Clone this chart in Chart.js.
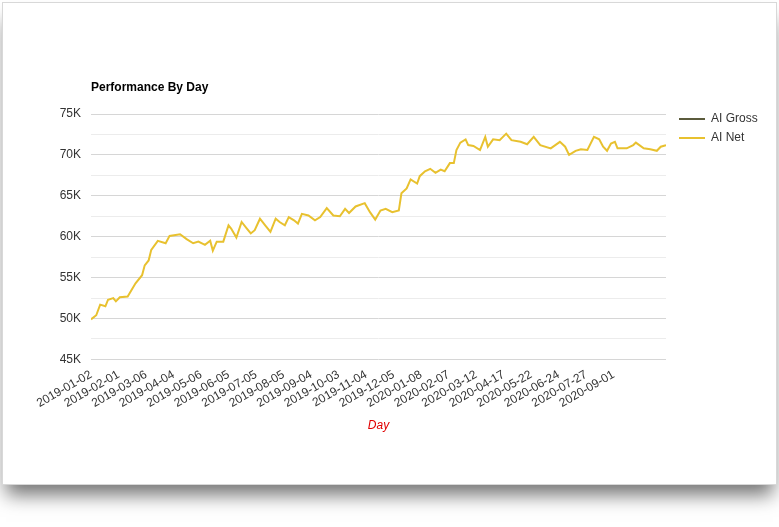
<!DOCTYPE html>
<html><head><meta charset="utf-8">
<script src="https://cdn.jsdelivr.net/npm/chart.js@4"></script>
<style>
html,body{margin:0;padding:0;background:#fff;width:779px;height:527px;overflow:hidden}
#card{position:absolute;left:2px;top:2px;width:773px;height:481px;background:#fff;border:1px solid #d8d8d8;box-shadow:0 14px 18px -4px rgba(0,0,0,0.55)}
canvas{display:block}
</style></head><body>
<div id="card"><canvas id="c" width="773" height="481"></canvas></div>
<script>
const chartTitle = "Performance By Day";
const tickLabels = ["2019-01-02","2019-02-01","2019-03-06","2019-04-04","2019-05-06","2019-06-05","2019-07-05","2019-08-05","2019-09-04","2019-10-03","2019-11-04","2019-12-05","2020-01-08","2020-02-07","2020-03-12","2020-04-17","2020-05-22","2020-06-24","2020-07-27","2020-09-01"];
const tickSpacingDays = 21;
const dayIndex = [0,4,7,11,13,17,19,22,28,34,39,41,44,46,51,57,60,68,73,78,82,87,91,93,96,101,105,107,111,115,119,122,125,129,133,137,141,144,148,151,155,158,161,166,171,175,180,185,190,194,197,202,209,213,217,221,225,230,235,237,241,244,249,251,255,259,263,267,270,274,277,279,282,286,288,292,297,301,303,307,312,317,321,328,333,338,343,351,358,362,365,370,374,379,384,388,391,394,397,400,402,409,414,416,422,427,432,435,439];
const netValues = [49.9,50.4,51.7,51.5,52.3,52.5,52.1,52.6,52.7,54.3,55.3,56.5,57.1,58.4,59.5,59.2,60.1,60.3,59.7,59.2,59.4,59.0,59.5,58.3,59.4,59.4,61.4,61.0,59.9,61.8,61.0,60.4,60.8,62.2,61.4,60.6,62.2,61.8,61.4,62.4,62.0,61.6,62.8,62.6,62.0,62.4,63.5,62.6,62.5,63.4,62.9,63.7,64.1,63.0,62.1,63.2,63.4,63.0,63.2,65.3,65.9,67.0,66.5,67.4,68.0,68.3,67.8,68.2,68.0,69.0,69.0,70.6,71.5,71.9,71.2,71.1,70.6,72.2,71.0,71.9,71.8,72.6,71.8,71.6,71.3,72.2,71.2,70.8,71.6,71.0,70.0,70.5,70.7,70.6,72.2,71.9,71.0,70.5,71.4,71.6,70.8,70.8,71.2,71.5,70.8,70.7,70.5,71.0,71.2].map(v=>v*1000);
const grossValues = [];
const seriesNames = ["AI Gross","AI Net"];

const FAM = "Arial, 'Liberation Sans', sans-serif";
const font = {family:FAM, size:12};
const decor = {
  id:'decor',
  afterDraw(chart){
    const ctx = chart.ctx, a = chart.chartArea;
    ctx.save();
    ctx.fillStyle = '#000'; ctx.font = 'bold 12px ' + FAM; ctx.textBaseline = 'middle'; ctx.textAlign = 'left';
    ctx.fillText(chartTitle, a.left, a.top - 26);
    ctx.font = '12px ' + FAM;
    chart.data.datasets.forEach((ds,i)=>{
      const y = a.top + 5 + i*19, x = a.right + 13;
      ctx.strokeStyle = ds.borderColor; ctx.lineWidth = 2;
      ctx.beginPath(); ctx.moveTo(x, y); ctx.lineTo(x+26, y); ctx.stroke();
      ctx.fillStyle = '#333'; ctx.fillText(ds.label, x+32, y);
    });
    ctx.restore();
  }
};
new Chart(document.getElementById('c'), {
  type:'line',
  data:{datasets:[
    {label:seriesNames[0], data:grossValues, borderColor:'#5b5b3c', backgroundColor:'#5b5b3c', borderWidth:2, pointRadius:0},
    {label:seriesNames[1], data:dayIndex.map((d,i)=>({x:d,y:netValues[i]})), borderColor:'#e8c12f', backgroundColor:'#e8c12f', borderWidth:2, pointRadius:0, tension:0}
  ]},
  plugins:[decor],
  options:{
    responsive:false, animation:false,
    layout:{padding:{top:111,left:9,right:110,bottom:47}},
    plugins:{ title:{display:false}, legend:{display:false}, tooltip:{enabled:false} },
    scales:{
      x:{type:'linear', min:0, max:439,
        afterBuildTicks(ax){ ax.ticks = tickLabels.map((t,i)=>({value:i*tickSpacingDays})); },
        ticks:{color:'#333', font, minRotation:30, maxRotation:30, autoSkip:false, padding:0,
          callback:(v)=>tickLabels[Math.round(v/tickSpacingDays)]},
        grid:{display:false}, border:{display:false},
        title:{display:true, text:'Day', color:'#e00000', font:{...font, style:'italic'}, padding:{top:8}}
      },
      y:{min:45000, max:75000,
        afterFit(ax){ ax.width = 79; },
        ticks:{stepSize:2500, color:'#333', font, padding:10, callback:(v)=> v%5000===0 ? (v/1000)+'K' : ''},
        grid:{color:(c)=> c.tick && c.tick.value%5000===0 ? '#d6d6d6' : '#ececec', lineWidth:1, drawTicks:false},
        border:{display:false}
      }
    }
  }
});
</script>
</body></html>
